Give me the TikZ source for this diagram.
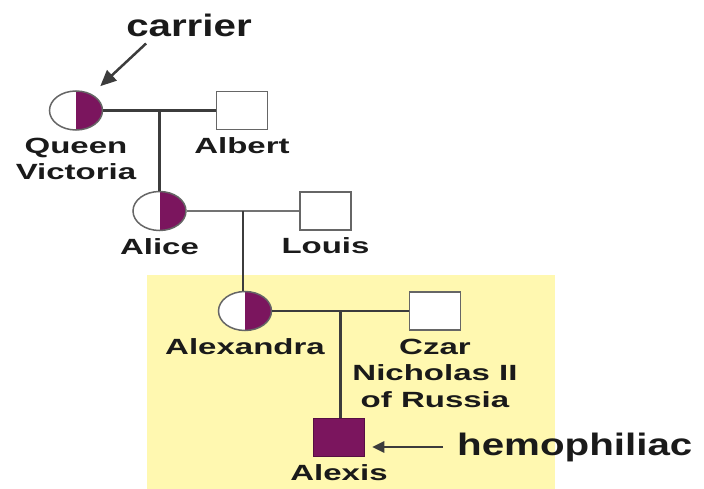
\documentclass[tikz,border=0pt]{standalone}
\usepackage{fontspec}
\setmainfont{Liberation Sans}
\newfontfamily\namefont{Liberation Sans}[FakeStretch=1.5]
\newfontfamily\notefont{Liberation Sans}[FakeStretch=1.3]
\usetikzlibrary{shapes,arrows.meta,positioning,calc}
\definecolor{plum}{HTML}{7B155E}
\definecolor{paleyellow}{HTML}{FFF8B0}
\definecolor{linegray}{HTML}{3C3C3C}
\definecolor{ink}{HTML}{1A1A1A}

\tikzset{
    female/.style={ellipse, draw=gray!80!black, line width=1.5pt, fill=white,
        minimum width=53pt, minimum height=39pt, inner sep=0pt},
    male/.style={rectangle, draw=gray!80!black, line width=1.5pt, fill=white,
        minimum width=51pt, minimum height=38pt, inner sep=0pt},
    halffill/.style={path picture={\fill[plum] (path picture bounding box.north)
        rectangle (path picture bounding box.south east);}},
    affected/.style={fill=plum, draw=plum!70!black},
    tag/.style={font={\namefont\bfseries\fontsize{22}{26.5}\selectfont},
        text=ink, align=center, inner sep=0pt},
    note/.style={font={\notefont\bfseries\fontsize{31}{36}\selectfont},
        text=ink, inner sep=0pt},
    marriage/.style={draw=linegray, line width=2.4pt},
    descent/.style={draw=linegray, line width=2.4pt},
    pointer/.style={draw=linegray, line width=2.5pt,
        -{Triangle[length=12pt,width=11pt]}}
}

\begin{document}
\begin{tikzpicture}[x=1pt,y=-1pt]
\useasboundingbox (0,0) rectangle (704,489);
\fill[paleyellow] (147,275) rectangle (555,489);

% generation I
\node[female, halffill] (victoria) at (76,110.5) {};
\node[male] (albert) at (242,110.5) {};
\node[tag, below=7pt of victoria] (victoria-l) {Queen\\Victoria};
\node[tag, below=7pt of albert] (albert-l) {Albert};

% generation II
\node[female, halffill] (alice) at (159.5,211) {};
\node[male] (louis) at (325.5,211) {};
\node[tag, below=7pt of alice] (alice-l) {Alice};
\node[tag, below=7pt of louis] (louis-l) {Louis};

% generation III
\node[female, halffill] (alexandra) at (245,311) {};
\node[male] (czar) at (435,311) {};
\node[tag, below=7pt of alexandra] (alexandra-l) {Alexandra};
\node[tag, below=8pt of czar] (czar-l) {Czar\\Nicholas II\\of Russia};

% generation IV
\node[male, affected] (alexis) at (339,437.5) {};
\node[tag, below=7pt of alexis] (alexis-l) {Alexis};

% marriages and descent
\draw[marriage] (victoria) -- (albert);
\draw[marriage, draw=gray!90!black, line width=2pt] (alice) -- (louis);
\draw[marriage] (alexandra) -- (czar);
\coordinate (m1) at ($(victoria.east)!0.5!(albert.west)$);
\coordinate (m2) at ($(alice.east)!0.5!(louis.west)$);
\coordinate (m3) at ($(alexandra.east)!0.5!(czar.west)$);
\draw[descent] (m1) -- (m1 |- alice.north);
\draw[descent] (m2) -- (m2 |- alexandra.north);
\draw[descent] (m3) -- (m3 |- alexis.north);

% notes
\node[note, anchor=base] (carrier) at (189,37) {carrier};
\node[note, anchor=west] (hemo) at (457,447) {hemophiliac};
\draw[pointer, -{Triangle[length=16pt,width=14pt]}] ([xshift=20pt,yshift=-6pt]carrier.south west) -- ([xshift=5pt,yshift=10pt]victoria.north east);
\draw[pointer, shorten <=14pt, shorten >=7pt] (hemo.west) -- (hemo.west -| alexis.east);
\end{tikzpicture}
\end{document}
